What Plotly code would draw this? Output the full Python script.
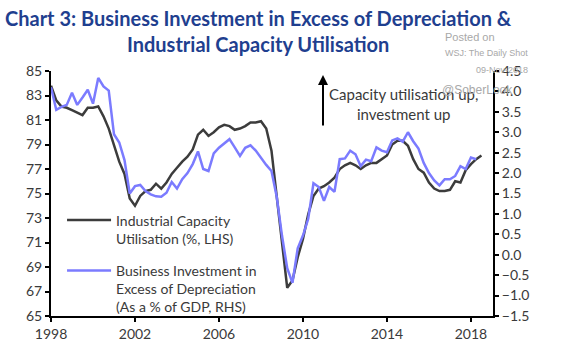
import plotly.graph_objects as go

# Quarterly dates (decimal years)
cap_dates = [1998 + 0.25 * i for i in range(83)]
cap_util = [83.8, 82.6, 82.1, 82.0, 81.8, 81.6, 81.4, 82.0, 82.0, 82.1,
            81.3, 80.3, 79.0, 77.6, 76.6, 74.6, 74.0, 74.8, 75.2, 75.3,
            75.8, 75.4, 75.9, 76.6, 77.1, 77.6, 78.0, 78.6, 79.8, 80.2,
            79.7, 80.0, 80.4, 80.6, 80.5, 80.2, 80.3, 80.5, 80.8, 80.8,
            80.9, 80.3, 78.5, 74.6, 71.0, 67.3, 67.9, 69.8, 71.3, 73.3,
            74.8, 75.4, 75.6, 75.9, 76.3, 77.0, 77.3, 77.5, 77.3, 77.0,
            77.3, 77.5, 77.5, 77.8, 78.1, 79.0, 79.3, 79.3, 78.9, 77.8,
            77.0, 76.7, 75.9, 75.4, 75.2, 75.2, 75.3, 76.0, 75.9, 76.9,
            77.4, 77.8, 78.1]

inv_dates = [1998 + 0.25 * i for i in range(82)]
bus_inv = [4.10, 3.55, 3.62, 3.67, 3.97, 3.67, 3.85, 4.04, 3.70, 4.33,
           4.12, 4.02, 2.95, 2.75, 2.32, 1.50, 1.68, 1.71, 1.56, 1.48,
           1.43, 1.42, 1.52, 1.78, 1.62, 1.85, 2.00, 2.22, 2.53, 2.10,
           2.05, 2.48, 2.62, 2.73, 2.83, 2.63, 2.42, 2.62, 2.68, 2.55,
           2.36, 2.20, 2.05, 1.42, 0.47, -0.33, -0.69, 0.16, 0.47, 0.88,
           1.75, 1.66, 1.32, 1.66, 1.54, 2.34, 2.36, 2.55, 2.46, 2.17,
           2.33, 2.29, 2.63, 2.55, 2.51, 2.80, 2.85, 2.77, 3.00, 2.78,
           2.60, 2.25, 2.00, 1.82, 1.70, 1.85, 1.85, 1.93, 2.17, 2.10,
           2.38, 2.34]

left_ticks = [65, 67, 69, 71, 73, 75, 77, 79, 81, 83, 85]
right_ticks = [-1.5, -1.0, -0.5, 0.0, 0.5, 1.0, 1.5, 2.0, 2.5, 3.0, 3.5, 4.0, 4.5]
x_ticks = [1998, 2002, 2006, 2010, 2014, 2018]

FONT = "Lato"
TXT = "#3a3a3a"

fig = go.Figure()
fig.add_trace(go.Scatter(
    x=cap_dates, y=cap_util, mode="lines",
    name="Industrial Capacity<br>Utilisation (%, LHS)",
    line=dict(color="#3c3c3c", width=2.5), legendgroup="a"))
fig.add_trace(go.Scatter(
    x=inv_dates, y=bus_inv, mode="lines", yaxis="y2",
    name="Business Investment in<br>Excess of Depreciation<br>(As a % of GDP, RHS)",
    line=dict(color="#7b7bff", width=2.5), legendgroup="b"))

axis_common = dict(showgrid=False, zeroline=False, showline=True,
                   linecolor="black", linewidth=2, ticks="outside",
                   ticklen=4, tickwidth=2, tickcolor="black",
                   tickfont=dict(family=FONT, size=14, color=TXT))

fig.update_layout(
    width=562, height=354,
    margin=dict(l=51, r=69, t=71, b=36),
    paper_bgcolor="white", plot_bgcolor="white",
    showlegend=True,
    legend=dict(x=0.025, y=0.455, xanchor="left", yanchor="top",
                bgcolor="rgba(0,0,0,0)", valign="top",
                font=dict(family=FONT, size=14, color=TXT),
                tracegroupgap=11, itemwidth=44),
    xaxis=dict(range=[1998, 2019.05], tickvals=x_ticks,
               ticktext=[str(t) for t in x_ticks], **axis_common),
    yaxis=dict(range=[65, 85], tickvals=left_ticks, **axis_common),
    yaxis2=dict(range=[-1.5, 4.5], tickvals=right_ticks,
                tickformat=".1f", overlaying="y", side="right",
                **axis_common),
)

# Title
fig.add_annotation(
    text="<b>Chart 3: Business Investment in Excess of Depreciation &<br>Industrial Capacity Utilisation</b>",
    xref="paper", yref="paper", x=(258 - 51) / 442, y=1 + (71 - 3) / 247,
    xanchor="center", yanchor="top", showarrow=False, align="center",
    font=dict(family=FONT, size=20, color="#1f3f8f"))

# Arrow annotation
fig.add_annotation(
    text="", xref="paper", yref="paper",
    x=(323 - 51) / 442, y=(318 - 75) / 247,
    ax=0, ay=52, showarrow=True, arrowhead=2, arrowsize=1,
    arrowwidth=2, arrowcolor="black")
fig.add_annotation(
    text="Capacity utilisation up,<br>investment up",
    xref="paper", yref="paper", x=(403 - 51) / 442, y=(318 - 104) / 247,
    xanchor="center", yanchor="middle", showarrow=False, align="center",
    font=dict(family=FONT, size=15, color=TXT))

# Watermarks
wm = dict(family="Liberation Sans", color="#a8a8a8")
fig.add_annotation(text="Posted on", xref="paper", yref="paper",
                   x=(443 - 51) / 442, y=(318 - 37) / 247, xanchor="left",
                   yanchor="middle", showarrow=False, font=dict(size=11, **wm))
fig.add_annotation(text="WSJ: The Daily Shot", xref="paper", yref="paper",
                   x=(443 - 51) / 442, y=(318 - 53) / 247, xanchor="left",
                   yanchor="middle", showarrow=False, font=dict(size=9, **wm))
fig.add_annotation(text="09-Nov-2018", xref="paper", yref="paper",
                   x=(474 - 51) / 442, y=(318 - 70) / 247, xanchor="left",
                   yanchor="middle", showarrow=False, font=dict(size=9, **wm))
fig.add_annotation(text="@SoberLook", xref="paper", yref="paper",
                   x=(440 - 51) / 442, y=(318 - 90) / 247, xanchor="left",
                   yanchor="middle", showarrow=False, font=dict(size=12, **wm))

fig.write_html("out.html")
